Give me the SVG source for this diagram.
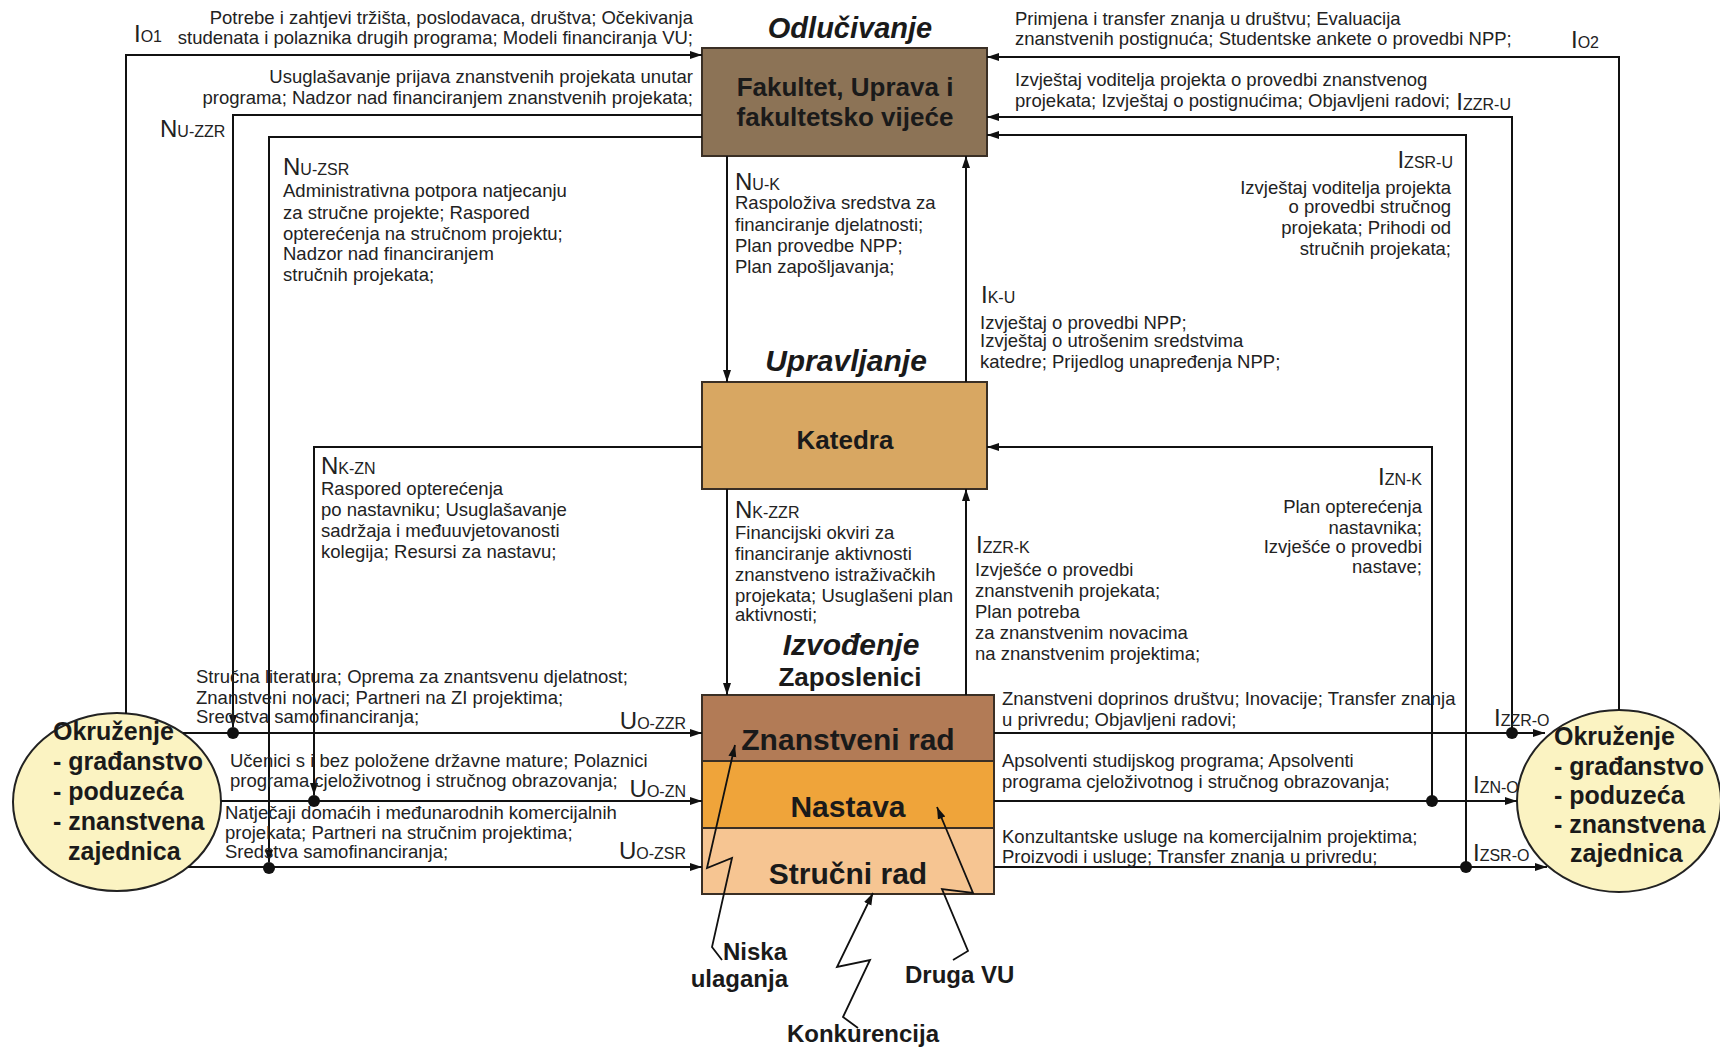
<svg xmlns="http://www.w3.org/2000/svg" width="1720" height="1049" viewBox="0 0 1720 1049">
<style>
text{font-family:"Liberation Sans",Arial,sans-serif;fill:#222}
.t{font-size:18.5px}
.e{text-anchor:end}
.m{text-anchor:middle}
.lb{font-size:24px}
.sb{font-size:16px}
.bx{font-size:26px;font-weight:bold;fill:#1a1a1a}
.bx30{font-size:30px;font-weight:bold;fill:#1a1a1a}
.ttl{font-size:30px;font-weight:bold;font-style:italic;fill:#1a1a1a}
.el{font-size:25px;font-weight:bold;fill:#1a1a1a}
.bt{font-size:24px;font-weight:bold;fill:#1a1a1a}
.c{fill:none;stroke:#111;stroke-width:2;marker-end:url(#ah)}
.z{fill:none;stroke:#111;stroke-width:1.8;stroke-linejoin:miter;marker-end:url(#ah)}
.dot{fill:#111}
.box{stroke:#3a2f25;stroke-width:2}
.ell{fill:#FBF3C2;stroke:#222;stroke-width:2}
</style>
<defs>
<marker id="ah" viewBox="0 0 12 10" refX="12" refY="5" markerWidth="12" markerHeight="10" markerUnits="userSpaceOnUse" orient="auto">
<path d="M0,1 L12,5 L0,9 z" fill="#111"/>
</marker>
</defs>
<rect width="1720" height="1049" fill="#fff"/>

<g id="node-fakultet">
<rect class="box" x="702" y="48" width="285" height="108" fill="#8C7356"/>
<text class="bx m" x="845" y="96">Fakultet, Uprava i</text>
<text class="bx m" x="845" y="126">fakultetsko vijeće</text>
</g>
<text class="ttl m" x="850" y="38" style="font-size:29px">Odlučivanje</text>

<g id="node-katedra">
<rect class="box" x="702" y="382" width="285" height="107" fill="#D8A762"/>
<text class="bx m" x="845" y="449">Katedra</text>
</g>
<text class="ttl m" x="846" y="371">Upravljanje</text>

<g id="node-izvodenje">
<rect class="box" x="702" y="695" width="292" height="66" fill="#B27B56"/>
<rect class="box" x="702" y="761" width="292" height="67" fill="#EFA43A"/>
<rect class="box" x="702" y="828" width="292" height="66" fill="#F6C592"/>
<text class="bx30 m" x="848" y="750">Znanstveni rad</text>
<text class="bx30 m" x="848" y="817">Nastava</text>
<text class="bx30 m" x="848" y="884">Stručni rad</text>
</g>
<text class="ttl m" x="851" y="655">Izvođenje</text>
<text class="bx m" x="850" y="686">Zaposlenici</text>

<g id="node-okruzenje-left">
<ellipse class="ell" cx="117" cy="802" rx="104" ry="89"/>
<text class="el" x="53" y="740">Okruženje</text>
<text class="el" x="53" y="770">- građanstvo</text>
<text class="el" x="53" y="800">- poduzeća</text>
<text class="el" x="53" y="830">- znanstvena</text>
<text class="el" x="68" y="860">zajednica</text>
</g>

<g id="node-okruzenje-right">
<ellipse class="ell" cx="1619" cy="801" rx="102" ry="91"/>
<text class="el" x="1554" y="745">Okruženje</text>
<text class="el" x="1554" y="775">- građanstvo</text>
<text class="el" x="1554" y="804">- poduzeća</text>
<text class="el" x="1554" y="833">- znanstvena</text>
<text class="el" x="1570" y="862">zajednica</text>
</g>

<g id="node-niska">
<text class="bt e" x="787" y="960">Niska</text>
<text class="bt e" x="788" y="987">ulaganja</text>
</g>
<g id="node-konkurencija">
<text class="bt m" x="863" y="1042">Konkurencija</text>
</g>
<g id="node-druga">
<text class="bt" x="905" y="983">Druga VU</text>
</g>

<g id="connectors">
<path class="c" d="M126,714 V55 H702"/>
<path class="c" d="M702,115 H233 V727"/>
<path class="c" d="M702,137 H269 V862"/>
<path class="c" d="M702,447 H314 V795"/>
<path class="c" d="M183,733 H702"/>
<path class="c" d="M221,801 H702"/>
<path class="c" d="M188,867 H702"/>
<path class="c" d="M727,156 V382"/>
<path class="c" d="M966,382 V156"/>
<path class="c" d="M727,489 V695"/>
<path class="c" d="M966,695 V489"/>
<path class="c" d="M1619,710 V57 H987"/>
<path class="c" d="M1512,733 V117 H987"/>
<path class="c" d="M1466,867 V135 H987"/>
<path class="c" d="M1432,801 V447 H987"/>
<path class="c" d="M994,733 H1545"/>
<path class="c" d="M994,801 H1517"/>
<path class="c" d="M994,867 H1547"/>
<circle class="dot" cx="233" cy="733" r="6"/>
<circle class="dot" cx="314" cy="801" r="6"/>
<circle class="dot" cx="269" cy="868" r="6"/>
<circle class="dot" cx="1512" cy="733" r="6"/>
<circle class="dot" cx="1432" cy="801" r="6"/>
<circle class="dot" cx="1466" cy="867" r="6"/>
<path class="z" d="M722,960 L712,947 L732,858 L707,868 L735,745"/>
<path class="z" d="M858,1028 L843,1017 L870,960 L837,967 L873,893"/>
<path class="z" d="M953,960 L968,951 L942,889 L973,893 L937,807"/>
</g>

<g id="labels">
<text x="134" y="42"><tspan class="lb">I</tspan><tspan class="sb">O1</tspan></text>
<text x="160" y="137"><tspan class="lb">N</tspan><tspan class="sb">U-ZZR</tspan></text>
<text x="283" y="175"><tspan class="lb">N</tspan><tspan class="sb">U-ZSR</tspan></text>
<text x="735" y="190"><tspan class="lb">N</tspan><tspan class="sb">U-K</tspan></text>
<text x="981" y="303"><tspan class="lb">I</tspan><tspan class="sb">K-U</tspan></text>
<text x="321" y="474"><tspan class="lb">N</tspan><tspan class="sb">K-ZN</tspan></text>
<text x="735" y="518"><tspan class="lb">N</tspan><tspan class="sb">K-ZZR</tspan></text>
<text x="976" y="553"><tspan class="lb">I</tspan><tspan class="sb">ZZR-K</tspan></text>
<text class="e" x="1422" y="485"><tspan class="lb">I</tspan><tspan class="sb">ZN-K</tspan></text>
<text class="e" x="1453" y="168"><tspan class="lb">I</tspan><tspan class="sb">ZSR-U</tspan></text>
<text class="e" x="1511" y="110"><tspan class="lb">I</tspan><tspan class="sb">ZZR-U</tspan></text>
<text x="1571" y="48"><tspan class="lb">I</tspan><tspan class="sb">O2</tspan></text>
<text class="e" x="686" y="729"><tspan class="lb">U</tspan><tspan class="sb">O-ZZR</tspan></text>
<text class="e" x="686" y="797"><tspan class="lb">U</tspan><tspan class="sb">O-ZN</tspan></text>
<text class="e" x="686" y="859"><tspan class="lb">U</tspan><tspan class="sb">O-ZSR</tspan></text>
<text x="1494" y="726"><tspan class="lb">I</tspan><tspan class="sb">ZZR-O</tspan></text>
<text x="1473" y="793"><tspan class="lb">I</tspan><tspan class="sb">ZN-O</tspan></text>
<text x="1473" y="861"><tspan class="lb">I</tspan><tspan class="sb">ZSR-O</tspan></text>
</g>

<g id="texts">
<text class="t e" x="693" y="24">Potrebe i zahtjevi tržišta, poslodavaca, društva; Očekivanja</text>
<text class="t e" x="693" y="44">studenata i polaznika drugih programa; Modeli financiranja VU;</text>
<text class="t e" x="693" y="83">Usuglašavanje prijava znanstvenih projekata unutar</text>
<text class="t e" x="693" y="104">programa; Nadzor nad financiranjem znanstvenih projekata;</text>

<text class="t" x="283" y="197">Administrativna potpora natjecanju</text>
<text class="t" x="283" y="219">za stručne projekte; Raspored</text>
<text class="t" x="283" y="240">opterećenja na stručnom projektu;</text>
<text class="t" x="283" y="260">Nadzor nad financiranjem</text>
<text class="t" x="283" y="281">stručnih projekata;</text>

<text class="t" x="735" y="209">Raspoloživa sredstva za</text>
<text class="t" x="735" y="231">financiranje djelatnosti;</text>
<text class="t" x="735" y="252">Plan provedbe NPP;</text>
<text class="t" x="735" y="273">Plan zapošljavanja;</text>

<text class="t" x="980" y="329">Izvještaj o provedbi NPP;</text>
<text class="t" x="980" y="347">Izvještaj o utrošenim sredstvima</text>
<text class="t" x="980" y="368">katedre; Prijedlog unapređenja NPP;</text>

<text class="t e" x="1451" y="194">Izvještaj voditelja projekta</text>
<text class="t e" x="1451" y="213">o provedbi stručnog</text>
<text class="t e" x="1451" y="234">projekata; Prihodi od</text>
<text class="t e" x="1451" y="255">stručnih projekata;</text>

<text class="t" x="1015" y="25">Primjena i transfer znanja u društvu; Evaluacija</text>
<text class="t" x="1015" y="45">znanstvenih postignuća; Studentske ankete o provedbi NPP;</text>
<text class="t" x="1015" y="86">Izvještaj voditelja projekta o provedbi znanstvenog</text>
<text class="t" x="1015" y="107">projekata; Izvještaj o postignućima; Objavljeni radovi;</text>

<text class="t e" x="1422" y="513">Plan opterećenja</text>
<text class="t e" x="1422" y="534">nastavnika;</text>
<text class="t e" x="1422" y="553">Izvješće o provedbi</text>
<text class="t e" x="1422" y="573">nastave;</text>

<text class="t" x="321" y="495">Raspored opterećenja</text>
<text class="t" x="321" y="516">po nastavniku; Usuglašavanje</text>
<text class="t" x="321" y="537">sadržaja i međuuvjetovanosti</text>
<text class="t" x="321" y="558">kolegija; Resursi za nastavu;</text>

<text class="t" x="735" y="539">Financijski okviri za</text>
<text class="t" x="735" y="560">financiranje aktivnosti</text>
<text class="t" x="735" y="581">znanstveno istraživačkih</text>
<text class="t" x="735" y="602">projekata; Usuglašeni plan</text>
<text class="t" x="735" y="621">aktivnosti;</text>

<text class="t" x="975" y="576">Izvješće o provedbi</text>
<text class="t" x="975" y="597">znanstvenih projekata;</text>
<text class="t" x="975" y="618">Plan potreba</text>
<text class="t" x="975" y="639">za znanstvenim novacima</text>
<text class="t" x="975" y="660">na znanstvenim projektima;</text>

<text class="t" x="196" y="683">Stručna literatura; Oprema za znantsvenu djelatnost;</text>
<text class="t" x="196" y="704">Znanstveni novaci; Partneri na ZI projektima;</text>
<text class="t" x="196" y="723">Sredstva samofinanciranja;</text>
<text class="t" x="230" y="767">Učenici s i bez položene državne mature; Polaznici</text>
<text class="t" x="230" y="787">programa cjeloživotnog i stručnog obrazovanja;</text>
<text class="t" x="225" y="819">Natječaji domaćih i međunarodnih komercijalnih</text>
<text class="t" x="225" y="839">projekata; Partneri na stručnim projektima;</text>
<text class="t" x="225" y="858">Sredstva samofinanciranja;</text>

<text class="t" x="1002" y="705">Znanstveni doprinos društvu; Inovacije; Transfer znanja</text>
<text class="t" x="1002" y="726">u privredu; Objavljeni radovi;</text>
<text class="t" x="1002" y="767">Apsolventi studijskog programa; Apsolventi</text>
<text class="t" x="1002" y="788">programa cjeloživotnog i stručnog obrazovanja;</text>
<text class="t" x="1002" y="843">Konzultantske usluge na komercijalnim projektima;</text>
<text class="t" x="1002" y="863">Proizvodi i usluge; Transfer znanja u privredu;</text>
</g>
</svg>
